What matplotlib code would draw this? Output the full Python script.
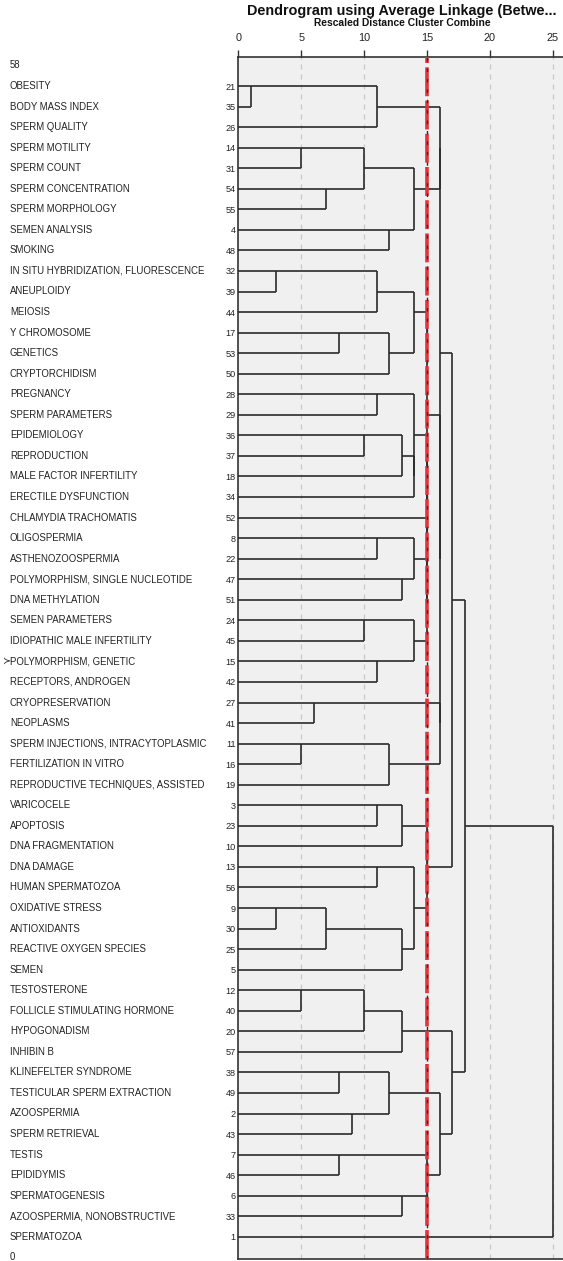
import matplotlib
matplotlib.use("Agg")
import matplotlib.pyplot as plt
from matplotlib.transforms import blended_transform_factory

# leaves from top to bottom (term, case number)
terms = ["OBESITY", "BODY MASS INDEX", "SPERM QUALITY", "SPERM MOTILITY", "SPERM COUNT",
         "SPERM CONCENTRATION", "SPERM MORPHOLOGY", "SEMEN ANALYSIS", "SMOKING",
         "IN SITU HYBRIDIZATION, FLUORESCENCE", "ANEUPLOIDY", "MEIOSIS", "Y CHROMOSOME",
         "GENETICS", "CRYPTORCHIDISM", "PREGNANCY", "SPERM PARAMETERS", "EPIDEMIOLOGY",
         "REPRODUCTION", "MALE FACTOR INFERTILITY", "ERECTILE DYSFUNCTION",
         "CHLAMYDIA TRACHOMATIS", "OLIGOSPERMIA", "ASTHENOZOOSPERMIA",
         "POLYMORPHISM, SINGLE NUCLEOTIDE", "DNA METHYLATION", "SEMEN PARAMETERS",
         "IDIOPATHIC MALE INFERTILITY", "POLYMORPHISM, GENETIC", "RECEPTORS, ANDROGEN",
         "CRYOPRESERVATION", "NEOPLASMS", "SPERM INJECTIONS, INTRACYTOPLASMIC",
         "FERTILIZATION IN VITRO", "REPRODUCTIVE TECHNIQUES, ASSISTED", "VARICOCELE",
         "APOPTOSIS", "DNA FRAGMENTATION", "DNA DAMAGE", "HUMAN SPERMATOZOA",
         "OXIDATIVE STRESS", "ANTIOXIDANTS", "REACTIVE OXYGEN SPECIES", "SEMEN",
         "TESTOSTERONE", "FOLLICLE STIMULATING HORMONE", "HYPOGONADISM", "INHIBIN B",
         "KLINEFELTER SYNDROME", "TESTICULAR SPERM EXTRACTION", "AZOOSPERMIA",
         "SPERM RETRIEVAL", "TESTIS", "EPIDIDYMIS", "SPERMATOGENESIS",
         "AZOOSPERMIA, NONOBSTRUCTIVE", "SPERMATOZOA"]
case_ids = [21, 35, 26, 14, 31, 54, 55, 4, 48, 32, 39, 44, 17, 53, 50, 28, 29, 36, 37, 18,
            34, 52, 8, 22, 47, 51, 24, 45, 15, 42, 27, 41, 11, 16, 19, 3, 23, 10, 13, 56,
            9, 30, 25, 5, 12, 40, 20, 57, 38, 49, 2, 43, 7, 46, 6, 33, 1]
top_note = "58"
bottom_note = "0"

# merge schedule: clusters named by their top leaf (1-based row), rescaled distance
merge_a = [1, 10, 41, 4, 33, 45, 31, 6, 41, 13, 49, 53, 51,
           4, 18, 27, 45, 1, 10, 16, 23, 29, 36, 39,
           8, 13, 33, 49, 18, 25, 36, 41, 45, 55,
           4, 10, 18, 16, 23, 27, 39,
           16, 23, 16, 10, 36, 53,
           1, 31, 10, 1, 49,
           1, 45, 1, 1]
merge_b = [2, 11, 42, 5, 34, 46, 32, 7, 43, 14, 50, 54, 52,
           6, 19, 28, 47, 3, 12, 17, 24, 30, 37, 40,
           9, 15, 35, 51, 20, 26, 38, 44, 48, 56,
           8, 13, 21, 18, 25, 29, 41,
           22, 27, 23, 16, 39, 55,
           4, 33, 31, 10, 53,
           36, 49, 45, 57]
merge_d = [1, 3, 3, 5, 5, 5, 6, 7, 7, 8, 8, 8, 9,
           10, 10, 10, 10, 11, 11, 11, 11, 11, 11, 11,
           12, 12, 12, 12, 13, 13, 13, 13, 13, 13,
           14, 14, 14, 14, 14, 14, 14,
           15, 15, 15, 15, 15, 15,
           16, 16, 16, 16, 16,
           17, 17, 18, 25]
cut_level = 15

W, H = 563, 1261
plt.rcParams['font.family'] = 'Liberation Sans'
fig = plt.figure(figsize=(W / 100, H / 100), dpi=100)

x0_px, unit_px = 238.3, 12.58
row0_px, row_px = 65.45, 20.55
xmax = 26.05
ytop = (57 - row0_px) / row_px
ybot = (1259 - row0_px) / row_px
ax = fig.add_axes([x0_px / W, 2 / H, xmax * unit_px / W, (1259 - 57) / H])
ax.set_facecolor('#f0f0f0')
ax.set_xlim(0, xmax)
ax.set_ylim(ybot, ytop)

# grid
for g in [5, 10, 20, 25]:
    ax.axvline(g, color='#c8c8c8', lw=0.9, ls=(0, (4, 4)), zorder=1)

# dendrogram
lc = '#2a2a2a'
pos = {i + 1: i + 1 for i in range(len(terms))}
xcur = {i + 1: 0.0 for i in range(len(terms))}
for a, b, d in zip(merge_a, merge_b, merge_d):
    for c in (a, b):
        ax.plot([xcur[c], d], [pos[c], pos[c]], color=lc, lw=1.2, zorder=3,
                solid_capstyle='butt')
    ax.plot([d, d], [pos[a], pos[b]], color=lc, lw=1.2, zorder=3,
            solid_capstyle='butt')
    new = min(a, b)
    pos[new] = (pos[a] + pos[b]) // 2
    xcur[new] = d

# cut line
ax.axvline(cut_level, color='#e0333a', lw=2.6, ls=(0, (8, 1.2)), zorder=4)
ax.axvline(cut_level, color='#2d3038', lw=1.0, ls=(0, (2.5, 5)), zorder=5)

# axis
ax.xaxis.set_ticks_position('top')
ax.set_xticks([0, 5, 10, 15, 20, 25])
ax.tick_params(axis='x', direction='out', length=5, width=1, color='#333333',
               labelsize=7.8, labelcolor='#222222', pad=5)
ax.set_yticks(range(1, len(terms) + 1))
ax.set_yticklabels([str(c) for c in case_ids])
ax.tick_params(axis='y', length=0, labelsize=6.6, labelcolor='#222222', pad=2)
for s in ['top', 'left', 'bottom']:
    ax.spines[s].set_color('#333333')
    ax.spines[s].set_linewidth(1.2)
ax.spines['right'].set_visible(False)

# left term labels
tr = blended_transform_factory(fig.transFigure, ax.transData)
lab_fs = 6.9
ax.text(10 / W, 0, top_note, transform=tr, fontsize=lab_fs, color='#222222',
        va='center', ha='left')
for i, t in enumerate(terms):
    ax.text(10 / W, i + 1, t, transform=tr, fontsize=lab_fs, color='#222222',
            va='center', ha='left')
ax.text(10 / W, len(terms) + 1, bottom_note, transform=tr, fontsize=lab_fs,
        color='#222222', va='center', ha='left')
ax.text(3 / W, terms.index("POLYMORPHISM, GENETIC") + 1, "\u227b", transform=tr,
        fontsize=7, color='#222222', va='center', ha='left', family='DejaVu Sans')

cx = (x0_px + xmax * unit_px / 2) / W
fig.text(cx, 1 - 11 / H, "Dendrogram using Average Linkage (Betwe...", ha='center',
         va='center', fontsize=10.4, fontweight='bold', color='#111111')
fig.text(cx, 1 - 23 / H, "Rescaled Distance Cluster Combine", ha='center',
         va='center', fontsize=7.4, fontweight='bold', color='#111111')

fig.savefig("out.png", dpi=100, facecolor='white')
